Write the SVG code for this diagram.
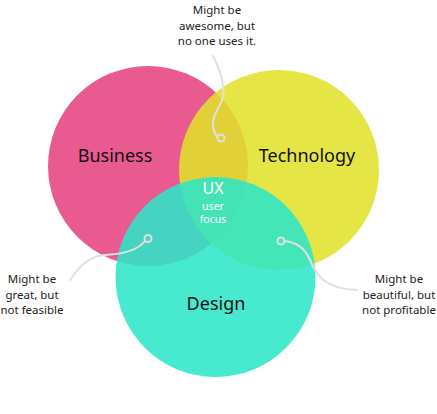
<svg xmlns="http://www.w3.org/2000/svg" width="437" height="414" viewBox="0 0 437 414">
<style>
.c{opacity:0.87}
.lbl{font-family:"Noto Sans","Open Sans",sans-serif;font-size:18px;fill:#111;text-anchor:middle}
.note{font-family:"Noto Sans","Open Sans",sans-serif;font-size:11.5px;fill:#222;text-anchor:middle}
.ux{font-family:"Noto Sans","Open Sans",sans-serif;fill:#fff;text-anchor:middle}
.conn{fill:none;stroke:#e3dfe0;stroke-width:2;stroke-linecap:round}
.dot{fill:none;stroke:#e3dfe0;stroke-width:2}
</style>
<rect width="437" height="414" fill="#fff"/>
<g id="business"><circle class="c" cx="148" cy="166" r="100" fill="#e6437f"/><text class="lbl" x="115" y="162">Business</text></g>
<g id="technology"><circle class="c" cx="279" cy="170" r="100" fill="#e1e12a"/><text class="lbl" x="307" y="162">Technology</text></g>
<g id="design"><circle class="c" cx="215.5" cy="277" r="100" fill="#2ce6c8"/><text class="lbl" x="216" y="310">Design</text></g>
<g id="ux"><text class="ux" x="213" y="194" font-size="16">UX</text><text class="ux" x="213" y="210" font-size="10.5">user</text><text class="ux" x="213" y="223" font-size="10.5">focus</text></g>
<g id="connectors">
<path class="conn" d="M213,56 C219,68 227,86 222,100 C218,110 212,116 213,126 C214,132 216,136 218,137"/>
<circle class="dot" cx="221" cy="138" r="3.5"/>
<path class="conn" d="M70,280 C80,265 90,256 105,255 C125,254 138,250 145,241"/>
<circle class="dot" cx="148" cy="238.5" r="3.5"/>
<path class="conn" d="M284.5,241 C295,242 305,248 310,260 C316,275 325,289 357,290"/>
<circle class="dot" cx="281" cy="241" r="3.5"/>
</g>
<g id="notes">
<text class="note" x="217" y="14">Might be</text>
<text class="note" x="217" y="30">awesome, but</text>
<text class="note" x="217" y="45">no one uses it.</text>
<text class="note" x="32" y="283">Might be</text>
<text class="note" x="32" y="299">great, but</text>
<text class="note" x="32" y="314">not feasible</text>
<text class="note" x="399" y="283">Might be</text>
<text class="note" x="399" y="299">beautiful, but</text>
<text class="note" x="399" y="314">not profitable</text>
</g>
</svg>
